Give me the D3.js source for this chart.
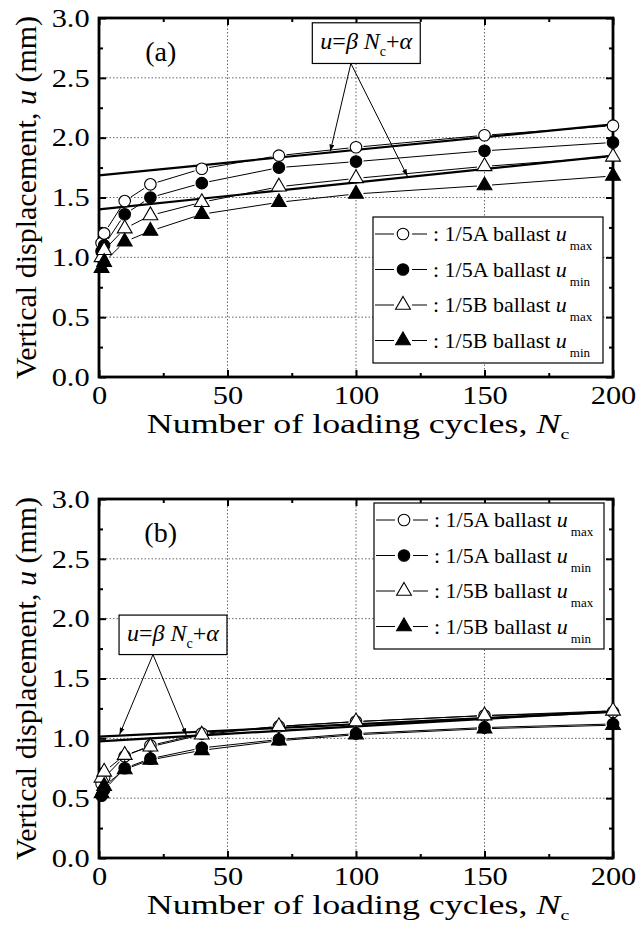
<!DOCTYPE html>
<html>
<head>
<meta charset="utf-8">
<script src="https://cdn.jsdelivr.net/npm/d3@7"></script>
<style>
  html, body { margin: 0; padding: 0; background: #fff; }
  svg { display: block; font-family: "Liberation Serif", "Times New Roman", serif; }
  svg text { font-family: "Liberation Serif", "Times New Roman", serif; }
</style>
</head>
<body>
<svg id="chart" width="637" height="938"></svg>
<script>
// Loading cycles at which displacement was recorded
const cycles = [1, 2, 10, 20, 40, 70, 100, 150, 200];

// Panel (a): vertical displacement (mm)
const aMaxA = [1.12, 1.20, 1.47, 1.61, 1.74, 1.85, 1.92, 2.02, 2.10];
const aMinA = [1.05, 1.10, 1.36, 1.50, 1.62, 1.75, 1.80, 1.89, 1.96];
const bMaxA = [1.00, 1.06, 1.24, 1.35, 1.46, 1.59, 1.66, 1.76, 1.84];
const bMinA = [0.91, 0.96, 1.13, 1.22, 1.36, 1.46, 1.53, 1.60, 1.68];

// Panel (b): vertical displacement (mm)
const aMaxB = [0.62, 0.67, 0.85, 0.94, 1.04, 1.10, 1.14, 1.19, 1.22];
const aMinB = [0.52, 0.57, 0.75, 0.83, 0.92, 0.99, 1.04, 1.09, 1.12];
const bMaxB = [0.67, 0.72, 0.86, 0.93, 1.03, 1.10, 1.14, 1.19, 1.23];
const bMinB = [0.54, 0.60, 0.74, 0.82, 0.90, 0.98, 1.03, 1.08, 1.11];

// Linear fits u = beta*Nc + alpha (first: 1/5A u_max, second: 1/5B u_max)
const fitAlphaA = [1.685, 1.40];
const fitBetaA  = [0.00213, 0.00225];
const fitAlphaB = [1.015, 0.975];
const fitBetaB  = [0.00103, 0.00125];

// Axis ticks
const xTicks = [0, 50, 100, 150, 200];
const xMinor = [25, 75, 125, 175];
const yTicks = [0, 0.5, 1.0, 1.5, 2.0, 2.5, 3.0];
const yMinor = [0.25, 0.75, 1.25, 1.75, 2.25, 2.75];

// Legend entries
const seriesNames = ["1/5A ballast ", "1/5A ballast ", "1/5B ballast ", "1/5B ballast "];
const seriesSubs  = ["max", "min", "max", "min"];
const seriesShape = ["circle", "circle", "triangle", "triangle"];
const seriesFill  = ["#fff", "#000", "#fff", "#000"];

const svg = d3.select("#chart");
const X0 = 99, X1 = 613;
const TICK_FONT = 26, TICK_STRETCH = 1.17;

const panels = [
  { top: 18, bottom: 377, tag: "(a)", series: [aMaxA, aMinA, bMaxA, bMinA],
    alpha: fitAlphaA, beta: fitBetaA,
    legend: { x: 373, y: 217, w: 230, h: 146 },
    note: { x0: 83, x1: 125, y0: 2.96, y1: 2.62, root: 98, targets: [90, 120] } },
  { top: 499, bottom: 858, tag: "(b)", series: [aMaxB, aMinB, bMaxB, bMinB],
    alpha: fitAlphaB, beta: fitBetaB,
    legend: { x: 374, y: 503, w: 230, h: 146 },
    note: { x0: 7.8, x1: 49.8, y0: 2.03, y1: 1.70, root: 21, targets: [8, 34] } }
];

const symbolPath = (shape) => shape === "circle"
  ? d3.symbol().type(d3.symbolCircle).size(105)()
  : d3.symbol().type(d3.symbolTriangle).size(95)();

panels.forEach(p => {
  const x = d3.scaleLinear().domain([0, 200]).range([X0, X1]);
  const y = d3.scaleLinear().domain([0, 3]).range([p.bottom, p.top]);
  const g = svg.append("g");

  // dotted grid at major ticks
  g.append("g").selectAll("line").data(xTicks.filter(v => v > 0 && v < 200)).join("line")
    .attr("x1", d => x(d)).attr("x2", d => x(d)).attr("y1", p.top).attr("y2", p.bottom)
    .attr("stroke", "#666").attr("stroke-width", 1).attr("stroke-dasharray", "1.5,2");
  g.append("g").selectAll("line").data(yTicks.filter(v => v > 0 && v < 3)).join("line")
    .attr("y1", d => y(d)).attr("y2", d => y(d)).attr("x1", X0).attr("x2", X1)
    .attr("stroke", "#666").attr("stroke-width", 1).attr("stroke-dasharray", "1.5,2");

  // axes with inward ticks
  const styleAxis = sel => {
    sel.select(".domain").remove();
    sel.attr("font-family", null).attr("font-size", null);
    sel.selectAll(".tick line").attr("stroke", "#000").attr("stroke-width", 2);
    sel.selectAll("text")
      .attr("font-size", TICK_FONT).attr("fill", "#000")
      .attr("transform", `scale(${TICK_STRETCH},1)`);
  };
  g.append("g").attr("transform", `translate(0,${p.bottom})`)
    .call(d3.axisBottom(x).tickValues(xTicks).tickSize(-7).tickPadding(9).tickFormat(d3.format("d")))
    .call(styleAxis);
  g.append("g").attr("transform", `translate(0,${p.bottom})`)
    .call(d3.axisBottom(x).tickValues(xMinor).tickSize(-4).tickFormat(""))
    .call(styleAxis);
  g.append("g").attr("transform", `translate(0,${p.top})`)
    .call(d3.axisTop(x).tickValues(xTicks).tickSize(-7).tickFormat(""))
    .call(styleAxis);
  g.append("g").attr("transform", `translate(0,${p.top})`)
    .call(d3.axisTop(x).tickValues(xMinor).tickSize(-4).tickFormat(""))
    .call(styleAxis);
  g.append("g").attr("transform", `translate(${X0},0)`)
    .call(d3.axisLeft(y).tickValues(yTicks).tickSize(-7).tickPadding(8).tickFormat(d3.format(".1f")))
    .call(styleAxis);
  g.append("g").attr("transform", `translate(${X0},0)`)
    .call(d3.axisLeft(y).tickValues(yMinor).tickSize(-4).tickFormat(""))
    .call(styleAxis);
  g.append("g").attr("transform", `translate(${X1},0)`)
    .call(d3.axisRight(y).tickValues(yTicks).tickSize(-7).tickFormat(""))
    .call(styleAxis);
  g.append("g").attr("transform", `translate(${X1},0)`)
    .call(d3.axisRight(y).tickValues(yMinor).tickSize(-4).tickFormat(""))
    .call(styleAxis);

  // frame
  g.append("rect").attr("x", X0).attr("y", p.top).attr("width", X1 - X0).attr("height", p.bottom - p.top)
    .attr("fill", "none").attr("stroke", "#000").attr("stroke-width", 2.8);

  // data lines with gaps around markers
  const gap = 7.5;
  p.series.forEach((vals, si) => {
    const pts = cycles.map((c, i) => [x(c), y(vals[i])]);
    const segs = [];
    for (let i = 0; i < pts.length - 1; i++) {
      const [ax, ay] = pts[i], [bx, by] = pts[i + 1];
      const dx = bx - ax, dy = by - ay, len = Math.hypot(dx, dy);
      if (len > 2 * gap + 1) {
        const ux = dx / len, uy = dy / len;
        segs.push([ax + ux * gap, ay + uy * gap, bx - ux * gap, by - uy * gap]);
      }
    }
    g.append("g").selectAll("line").data(segs).join("line")
      .attr("x1", d => d[0]).attr("y1", d => d[1]).attr("x2", d => d[2]).attr("y2", d => d[3])
      .attr("stroke", "#000").attr("stroke-width", 1);
  });

  // fit lines
  p.alpha.forEach((a, i) => {
    g.append("line")
      .attr("x1", x(0)).attr("y1", y(a))
      .attr("x2", x(200)).attr("y2", y(a + p.beta[i] * 200))
      .attr("stroke", "#000").attr("stroke-width", 2.2);
  });

  // markers
  p.series.forEach((vals, si) => {
    g.append("g").selectAll("path").data(cycles.map((c, i) => [c, vals[i]])).join("path")
      .attr("d", symbolPath(seriesShape[si]))
      .attr("transform", d => `translate(${x(d[0])},${y(d[1])})`)
      .attr("fill", seriesFill[si]).attr("stroke", "#000").attr("stroke-width", 1.1);
  });

  // panel tag
  g.append("text").attr("x", x(24)).attr("y", y(2.64)).attr("text-anchor", "middle")
    .attr("font-size", 28).text(p.tag);

  // annotation box with arrows to both fit lines
  const n = p.note;
  svg.append("defs").append("marker").attr("id", "arr" + p.top)
    .attr("viewBox", "0 0 10 10").attr("refX", 10).attr("refY", 5)
    .attr("markerWidth", 7).attr("markerHeight", 7).attr("orient", "auto")
    .append("path").attr("d", "M0,1.5 L10,5 L0,8.5 Z").attr("fill", "#000");
  n.targets.forEach((t, i) => {
    g.append("line")
      .attr("x1", x(n.root)).attr("y1", y(n.y1))
      .attr("x2", x(t)).attr("y2", y(p.alpha[i] + p.beta[i] * t) - 1)
      .attr("stroke", "#000").attr("stroke-width", 1)
      .attr("marker-end", `url(#arr${p.top})`);
  });
  g.append("rect").attr("x", x(n.x0)).attr("y", y(n.y0))
    .attr("width", x(n.x1) - x(n.x0)).attr("height", y(n.y1) - y(n.y0))
    .attr("fill", "#fff").attr("stroke", "#000").attr("stroke-width", 1.2);
  const eq = g.append("text").attr("x", (x(n.x0) + x(n.x1)) / 2).attr("y", (y(n.y0) + y(n.y1)) / 2 + 6)
    .attr("text-anchor", "middle").attr("font-size", 24);
  eq.append("tspan").attr("font-style", "italic").text("u");
  eq.append("tspan").text("=");
  eq.append("tspan").attr("font-style", "italic").text("β N");
  eq.append("tspan").attr("font-size", 14).attr("dy", 7).text("c");
  eq.append("tspan").attr("dy", -7).text("+");
  eq.append("tspan").attr("font-style", "italic").text("α");

  // legend
  const L = p.legend;
  g.append("rect").attr("x", L.x).attr("y", L.y).attr("width", L.w).attr("height", L.h)
    .attr("fill", "#fff").attr("stroke", "#000").attr("stroke-width", 1.2);
  const rowH = 35.5;
  seriesNames.forEach((name, i) => {
    const cy = L.y + 17 + i * rowH;
    const mx = L.x + 30;
    g.append("line").attr("x1", L.x + 2).attr("x2", mx - 9).attr("y1", cy).attr("y2", cy)
      .attr("stroke", "#000").attr("stroke-width", 1);
    g.append("line").attr("x1", mx + 9).attr("x2", mx + 24).attr("y1", cy).attr("y2", cy)
      .attr("stroke", "#000").attr("stroke-width", 1);
    g.append("path").attr("d", symbolPath(seriesShape[i]))
      .attr("transform", `translate(${mx},${cy})`)
      .attr("fill", seriesFill[i]).attr("stroke", "#000").attr("stroke-width", 1.1);
    const t = g.append("text").attr("x", mx + 30).attr("y", cy + 7).attr("font-size", 22);
    t.append("tspan").text(": " + name);
    t.append("tspan").attr("font-style", "italic").text("u");
    t.append("tspan").attr("font-size", 13).attr("dy", 9).attr("dx", 3).text(seriesSubs[i]);
  });

  // axis titles
  const yt = svg.append("text").attr("text-anchor", "middle").attr("font-size", 30)
    .attr("transform", `translate(36,${(p.top + p.bottom) / 2}) rotate(-90)`);
  yt.append("tspan").text("Vertical displacement, ");
  yt.append("tspan").attr("font-style", "italic").text("u");
  yt.append("tspan").text(" (mm)");

  const xt = svg.append("text").attr("text-anchor", "middle").attr("font-size", 27)
    .attr("transform", `translate(${(X0 + X1) / 2 + 2},${p.bottom + 56}) scale(1.33,1)`);
  xt.append("tspan").text("Number of loading cycles, ");
  xt.append("tspan").attr("font-style", "italic").text("N");
  xt.append("tspan").attr("font-size", 15).attr("dy", 6).text("c");
});
</script>
</body>
</html>
